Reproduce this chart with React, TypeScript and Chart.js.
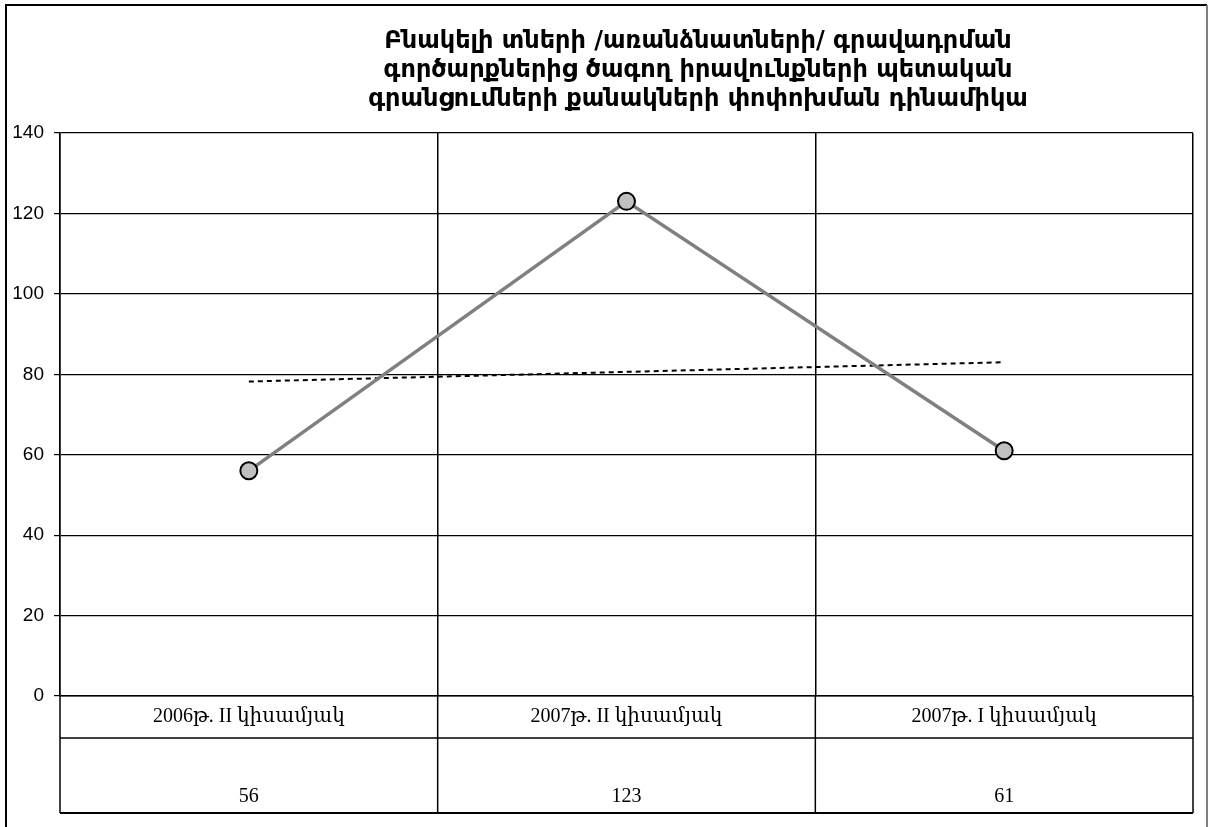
import React, { useEffect, useRef } from "react";
import { Chart, registerables } from "chart.js";

Chart.register(...registerables);

const TITLE_LINES = [
  "Բնակելի տների /առանձնատների/ գրավադրման",
  "գործարքներից ծագող իրավունքների պետական",
  "գրանցումների քանակների փոփոխման դինամիկա",
];
const CATEGORIES = ["2006թ. II կիսամյակ", "2007թ. II կիսամյակ", "2007թ. I կիսամյակ"];
const VALUES = [56, 123, 61];
const VALUE_LABELS = ["56", "123", "61"];
const TREND = [78.2, 80.6, 83];
const Y_MIN = 0;
const Y_MAX = 140;
const Y_STEP = 20;

const SERIF = '"Liberation Serif", "DejaVu Serif", serif';
const SANS = '"Liberation Sans", "DejaVu Sans", Arial, sans-serif';

const framePlugin = {
  id: "frame",
  afterDraw(chart: any) {
    const { ctx, chartArea, scales } = chart;
    const x = scales.x;
    const { left, right, bottom } = chartArea;
    const row1 = bottom + 42;
    const row2 = bottom + 117;
    ctx.save();
    // outer border
    ctx.lineWidth = 2;
    ctx.strokeStyle = "#000";
    ctx.beginPath();
    ctx.moveTo(6, 900);
    ctx.lineTo(6, 5);
    ctx.lineTo(1207, 5);
    ctx.stroke();
    ctx.strokeStyle = "#808080";
    ctx.beginPath();
    ctx.moveTo(1207, 5);
    ctx.lineTo(1207, 900);
    ctx.stroke();

    // title
    ctx.fillStyle = "#000";
    ctx.font = 'bold 24px "DejaVu Sans", "Noto Sans", sans-serif';
    ctx.textAlign = "center";
    ctx.textBaseline = "middle";
    TITLE_LINES.forEach((t, i) => ctx.fillText(t, 698, 42 + i * 29));

    // data table lines
    ctx.strokeStyle = "#000";
    ctx.lineWidth = 1.5;
    ctx.beginPath();
    ctx.moveTo(left, row1);
    ctx.lineTo(right, row1);
    ctx.stroke();
    ctx.lineWidth = 2;
    ctx.beginPath();
    ctx.moveTo(left, row2);
    ctx.lineTo(right, row2);
    ctx.stroke();
    const n = CATEGORIES.length;
    const w = (right - left) / n;
    ctx.lineWidth = 1.5;
    for (let i = 0; i <= n; i++) {
      const px = left + i * w;
      ctx.beginPath();
      ctx.moveTo(px, bottom);
      ctx.lineTo(px, row2);
      ctx.stroke();
    }
    // table text
    ctx.font = `20px ${SERIF}`;
    ctx.textAlign = "center";
    ctx.textBaseline = "middle";
    CATEGORIES.forEach((c, i) => {
      const cx = x.getPixelForValue(i);
      ctx.fillText(c, cx, bottom + 21);
      ctx.fillText(VALUE_LABELS[i], cx, bottom + 101);
    });
    ctx.restore();
  },
};

export default function App() {
  const ref = useRef<HTMLCanvasElement | null>(null);
  useEffect(() => {
    if (!ref.current) return;
    const chart = new Chart(ref.current, {
      type: "line",
      data: {
        labels: CATEGORIES,
        datasets: [
          {
            data: VALUES,
            borderColor: "#808080",
            borderWidth: 3.5,
            pointRadius: 8.5,
            pointBackgroundColor: "#c0c0c0",
            pointBorderColor: "#000",
            pointBorderWidth: 2,
            tension: 0,
            order: 1,
          },
          {
            data: TREND,
            borderColor: "#000",
            borderWidth: 2,
            borderDash: [5, 4],
            pointRadius: 0,
            tension: 0,
            order: 2,
          },
        ],
      },
      options: {
        responsive: false,
        animation: false,
        devicePixelRatio: 1,
        layout: { padding: { left: 0, right: 16, top: 133, bottom: 131 } },
        plugins: {
          legend: { display: false },
          title: { display: false },
          tooltip: { enabled: false },
        },
        scales: {
          x: {
            type: "category",
            offset: true,
            grid: { offset: true, color: "#000", lineWidth: 1.5, drawTicks: false },
            border: { color: "#000", width: 1.5 },
            ticks: { display: false },
            afterFit: (s: any) => {
              s.height = 0;
            },
          },
          y: {
            min: Y_MIN,
            max: Y_MAX,
            ticks: {
              stepSize: Y_STEP,
              color: "#000",
              font: { family: SANS, size: 19 },
              padding: 10,
            },
            grid: { color: "#000", lineWidth: 1.2, tickLength: 6, tickColor: "#000" },
            border: { color: "#000", width: 1.5 },
            afterFit: (s: any) => {
              s.width = 60;
            },
          },
        },
      },
      plugins: [framePlugin],
    });
    return () => chart.destroy();
  }, []);
  return (
    <div style={{ position: "absolute", left: 0, top: 0, width: 1209, height: 827, background: "#fff" }}>
      <canvas ref={ref} width={1209} height={827} style={{ width: 1209, height: 827, display: "block" }} />
    </div>
  );
}
